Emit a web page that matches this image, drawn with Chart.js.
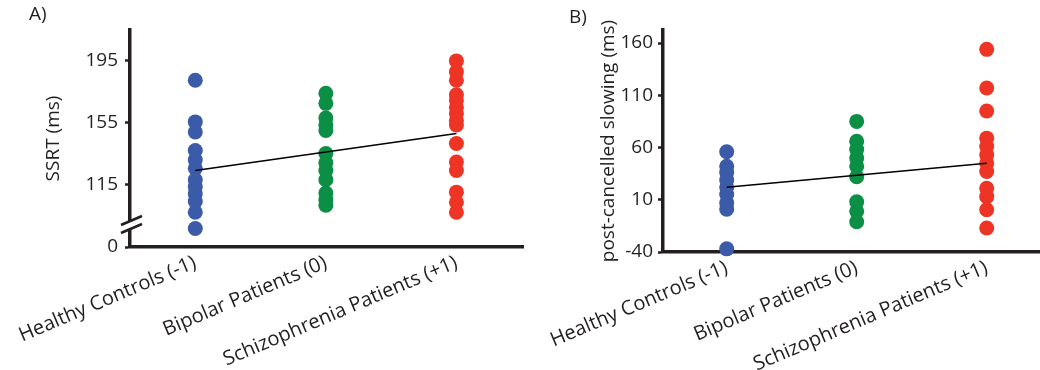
<!DOCTYPE html>
<html>
<head>
<meta charset="utf-8">
<script src="https://cdn.jsdelivr.net/npm/chart.js"></script>
<style>
    html, body { margin: 0; padding: 0; background: #fff; overflow: hidden; }
    #wrap { position: relative; width: 1040px; height: 370px; }
    .panel { position: absolute; top: 0; height: 370px; }
    #panelA { left: 0; width: 525px; }
    #panelB { left: 530px; width: 510px; }
</style>
</head>
<body>
<div id="wrap">
    <div class="panel" id="panelA"><canvas id="ssrtChart"></canvas></div>
    <div class="panel" id="panelB"><canvas id="slowingChart"></canvas></div>
</div>
<script>
// Groups, coded -1 / 0 / +1 on the x axis
const groupNames = ["Healthy Controls (-1)", "Bipolar Patients (0)", "Schizophrenia Patients (+1)"];
const groupCodes = [-1, 0, 1];
const groupColors = ["#3b5ba9", "#0b8f45", "#ee3424"];

// A) stop-signal reaction time per subject (ms)
const ssrtHealthy = [182.5, 155.5, 149, 137, 131, 125.5, 118, 113.5, 109, 104, 97, 86.5];
const ssrtBipolar = [174, 167.5, 158, 153.5, 150, 135, 129, 124, 118, 109.5, 105, 101.5];
const ssrtSchizo = [195, 188, 182.5, 173, 169.5, 165, 161, 156.5, 153.5, 141.5, 129.5, 124, 110, 103.5, 97];
const ssrtFit = [124, 148];          // linear trend at -1 and +1
const ssrtTicks = [115, 155, 195];
const ssrtRange = [74.5, 215];       // lower end sits below the axis break, labelled "0"
const ssrtBreakLabel = "0";

// B) post-cancelled slowing per subject (ms)
const pcsHealthy = [56, 42, 36, 29, 22, 15, 7, 1, -37];
const pcsBipolar = [85, 66, 58, 50, 42, 32, 8, -1, -11];
const pcsSchizo = [154, 117, 95, 69, 61, 53, 45, 37, 21, 13, 0.5, -17];
const pcsFit = [22, 45];
const pcsTicks = [-40, 10, 60, 110, 160];
const pcsRange = [-40, 172.5];

const INK = "#231f20";
Chart.defaults.font.family = "'Open Sans', sans-serif";
Chart.defaults.font.size = 19;
Chart.defaults.color = INK;

// "A)" / "B)" in the top-left corner
const panelLetter = {
    id: "panelLetter",
    afterDraw(chart, args, opts) {
        const ctx = chart.ctx;
        ctx.save();
        ctx.font = "19px 'Open Sans', sans-serif";
        ctx.fillStyle = INK;
        ctx.textBaseline = "top";
        ctx.fillText(opts.text, opts.x, opts.y);
        ctx.restore();
    }
};

// Two slashes across the y axis near the bottom
const axisBreak = {
    id: "axisBreak",
    afterDraw(chart, args, opts) {
        if (!opts.show) return;
        const ctx = chart.ctx;
        const ys = chart.scales.y;
        const x0 = ys.right;
        const yb = ys.bottom - 22;
        ctx.save();
        ctx.fillStyle = "#fff";
        ctx.fillRect(x0 - 3, yb - 4, 6, 8);
        ctx.strokeStyle = INK;
        ctx.lineWidth = 2.5;
        [-4, 4].forEach(d => {
            ctx.beginPath();
            ctx.moveTo(x0 - 9, yb + d + 4);
            ctx.lineTo(x0 + 12, yb + d - 5);
            ctx.stroke();
        });
        ctx.restore();
    }
};

function groupPoints(values, code) {
    return values.map(v => ({ x: code, y: v }));
}

function renderPanel(canvasId, cfg) {
    const ctx = document.getElementById(canvasId).getContext("2d");

    const datasets = [{
        type: "line",
        data: [{ x: -1, y: cfg.fit[0] }, { x: 1, y: cfg.fit[1] }],
        borderColor: "#000",
        borderWidth: 1.6,
        pointRadius: 0,
        clip: false
    }];
    cfg.groups.forEach((vals, i) => {
        datasets.push({
            type: "scatter",
            data: groupPoints(vals, groupCodes[i]),
            backgroundColor: groupColors[i],
            borderWidth: 0,
            pointRadius: 7.5,
            clip: false
        });
    });

    new Chart(ctx, {
        data: { datasets: datasets },
        options: {
            responsive: true,
            maintainAspectRatio: false,
            animation: false,
            devicePixelRatio: 1,
            layout: {
                autoPadding: false,
                padding: { left: 0, top: 30, right: cfg.padRight, bottom: 0 }
            },
            plugins: {
                legend: { display: false },
                tooltip: { enabled: false },
                panelLetter: cfg.letter,
                axisBreak: { show: cfg.breakMark }
            },
            scales: {
                x: {
                    type: "linear",
                    min: cfg.xRange[0],
                    max: cfg.xRange[1],
                    afterBuildTicks: scale => { scale.ticks = groupCodes.map(v => ({ value: v })); },
                    afterFit: scale => {
                        scale.height = 370 - cfg.axisBottom;
                        scale.paddingLeft = 0;
                        scale.paddingRight = 0;
                    },
                    ticks: {
                        autoSkip: false,
                        minRotation: 23,
                        maxRotation: 23,
                        padding: 4,
                        font: { size: 20 },
                        callback: v => groupNames[groupCodes.indexOf(v)]
                    },
                    grid: { display: true, drawOnChartArea: false, drawTicks: false },
                    border: { display: true, width: 3.5, color: INK }
                },
                y: {
                    type: "linear",
                    min: cfg.yRange[0],
                    max: cfg.yRange[1],
                    afterBuildTicks: scale => { scale.ticks = cfg.yTicks.map(v => ({ value: v })); },
                    afterFit: scale => { scale.width = cfg.axisLeft; },
                    ticks: {
                        padding: cfg.tickPad,
                        callback: cfg.tickLabel
                    },
                    grid: {
                        display: true, drawOnChartArea: false, drawTicks: true,
                        tickLength: 5, tickWidth: 2.5, tickColor: INK
                    },
                    border: { display: true, width: 3.5, color: INK },
                    title: {
                        display: true,
                        text: cfg.title,
                        font: { size: 19 },
                        padding: { top: cfg.titlePad, bottom: 0 }
                    }
                }
            }
        },
        plugins: [panelLetter, axisBreak]
    });
}

renderPanel("ssrtChart", {
    groups: [ssrtHealthy, ssrtBipolar, ssrtSchizo],
    fit: ssrtFit,
    yRange: ssrtRange,
    yTicks: [ssrtRange[0]].concat(ssrtTicks),
    tickLabel: v => (v === ssrtRange[0] ? ssrtBreakLabel : v),
    xRange: [-1.5, 1.51],
    title: "SSRT (ms)",
    letter: { text: "A)", x: 29, y: 5 },
    breakMark: true,
    axisLeft: 130,
    axisBottom: 247,
    padRight: 2,
    tickPad: 7,
    titlePad: 42
});

renderPanel("slowingChart", {
    groups: [pcsHealthy, pcsBipolar, pcsSchizo],
    fit: pcsFit,
    yRange: pcsRange,
    yTicks: pcsTicks,
    tickLabel: v => v,
    xRange: [-1.49, 1.41],
    title: "post-cancelled slowing (ms)",
    letter: { text: "B)", x: 39, y: 8 },
    breakMark: false,
    axisLeft: 133,
    axisBottom: 252,
    padRight: 0,
    tickPad: 5,
    titlePad: 67
});
</script>
</body>
</html>
